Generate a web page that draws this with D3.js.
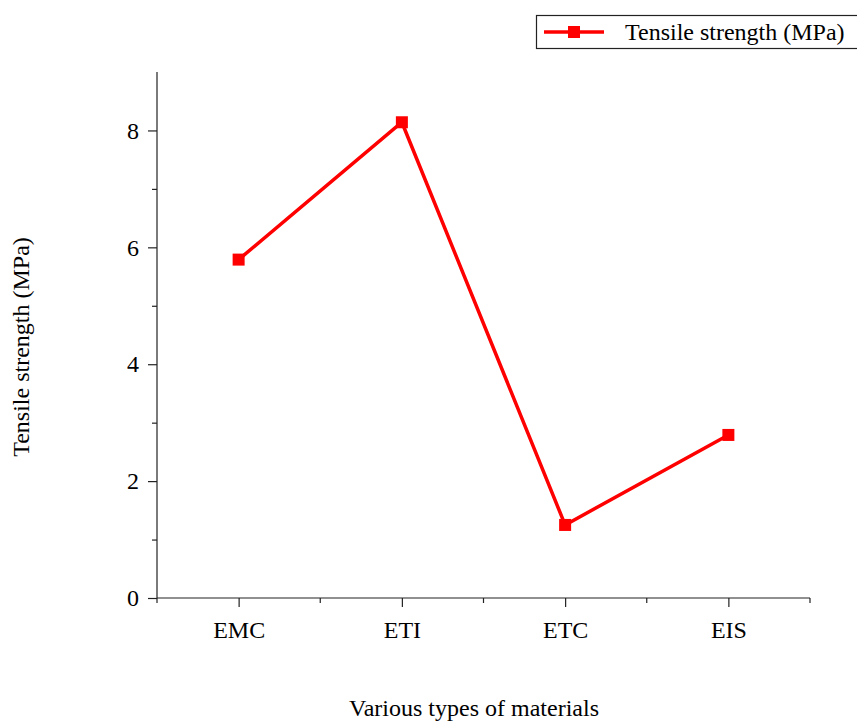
<!DOCTYPE html>
<html><head><meta charset="utf-8">
<script src="https://cdn.jsdelivr.net/npm/d3@7"></script>
<style>body{margin:0;background:#fff}svg{display:block}text{font-family:"Liberation Serif","Times New Roman",serif;fill:#000}</style>
</head><body>
<script>
const categories = ["EMC", "ETI", "ETC", "EIS"];
const tensileStrength = [5.79, 8.14, 1.25, 2.79];
const yTicks = [0, 2, 4, 6, 8];
const yMinorTicks = [1, 3, 5, 7];
const seriesName = "Tensile strength (MPa)";
const xTitle = "Various types of materials";
const yTitle = "Tensile strength (MPa)";

(function () {
const W = 857, H = 722;
const svg = d3.select("body").append("svg").attr("width", W).attr("height", H);
const mLeft = 157, mRight = 810, mTop = 72, mBottom = 598;
const FS = "24px";

const x = d3.scalePoint().domain(categories).range([mLeft, mRight]).padding(0.5);
const y = d3.scaleLinear().domain([0, 9]).range([mBottom, mTop]);

// Y axis
const yAxis = svg.append("g").attr("transform", `translate(${mLeft},0)`)
  .call(d3.axisLeft(y).tickValues(yTicks).tickFormat(d3.format("d")).tickSize(9).tickPadding(9));
yAxis.select(".domain").attr("d", `M0,${y(9)}V${mBottom}`);
yAxis.selectAll("text").style("font-size", FS);
yAxis.selectAll("line,path").attr("stroke", "#222").attr("stroke-width", 1.2);
svg.append("g").attr("transform", `translate(${mLeft},0)`)
  .call(d3.axisLeft(y).tickValues(yMinorTicks).tickFormat("").tickSize(5))
  .call(g => g.select(".domain").remove())
  .selectAll("line").attr("stroke", "#222").attr("stroke-width", 1.2);

// X axis
const xAxis = svg.append("g").attr("transform", `translate(0,${mBottom})`)
  .call(d3.axisBottom(x).tickSize(9).tickPadding(14));
xAxis.select(".domain").attr("d", `M${mLeft},0H${mRight}`);
xAxis.selectAll("text").style("font-size", FS);
xAxis.selectAll("line,path").attr("stroke", "#222").attr("stroke-width", 1.2);
const step = x.step();
const bounds = d3.range(categories.length + 1).map(i => mLeft + i * step);
svg.append("g").attr("transform", `translate(0,${mBottom})`)
  .selectAll("line").data(bounds).join("line")
  .attr("x1", d => d).attr("x2", d => d).attr("y1", 0).attr("y2", 5)
  .attr("stroke", "#222").attr("stroke-width", 1.2);

// Line + markers
const line = d3.line().x((d, i) => x(categories[i])).y(d => y(d));
svg.append("path").datum(tensileStrength).attr("d", line)
  .attr("fill", "none").attr("stroke", "#ff0000").attr("stroke-width", 3.5);
svg.selectAll("rect.mk").data(tensileStrength).join("rect").attr("class", "mk")
  .attr("x", (d, i) => x(categories[i]) - 6).attr("y", d => y(d) - 6)
  .attr("width", 12).attr("height", 12).attr("fill", "#ff0000");

// Titles
svg.append("text").attr("x", 474).attr("y", 716).attr("text-anchor", "middle")
  .style("font-size", FS).text(xTitle);
svg.append("text").attr("transform", "translate(29,347) rotate(-90)").attr("text-anchor", "middle")
  .style("font-size", FS).text(yTitle);

// Legend
const lg = svg.append("g");
lg.append("rect").attr("x", 536.5).attr("y", 15.5).attr("width", 330).attr("height", 33)
  .attr("fill", "#fff").attr("stroke", "#222").attr("stroke-width", 1.2);
lg.append("line").attr("x1", 544).attr("x2", 604).attr("y1", 32).attr("y2", 32)
  .attr("stroke", "#ff0000").attr("stroke-width", 3.5);
lg.append("rect").attr("x", 568).attr("y", 26).attr("width", 12).attr("height", 12).attr("fill", "#ff0000");
lg.append("text").attr("x", 625).attr("y", 40).style("font-size", FS).text(seriesName);
})();
</script>
</body></html>
